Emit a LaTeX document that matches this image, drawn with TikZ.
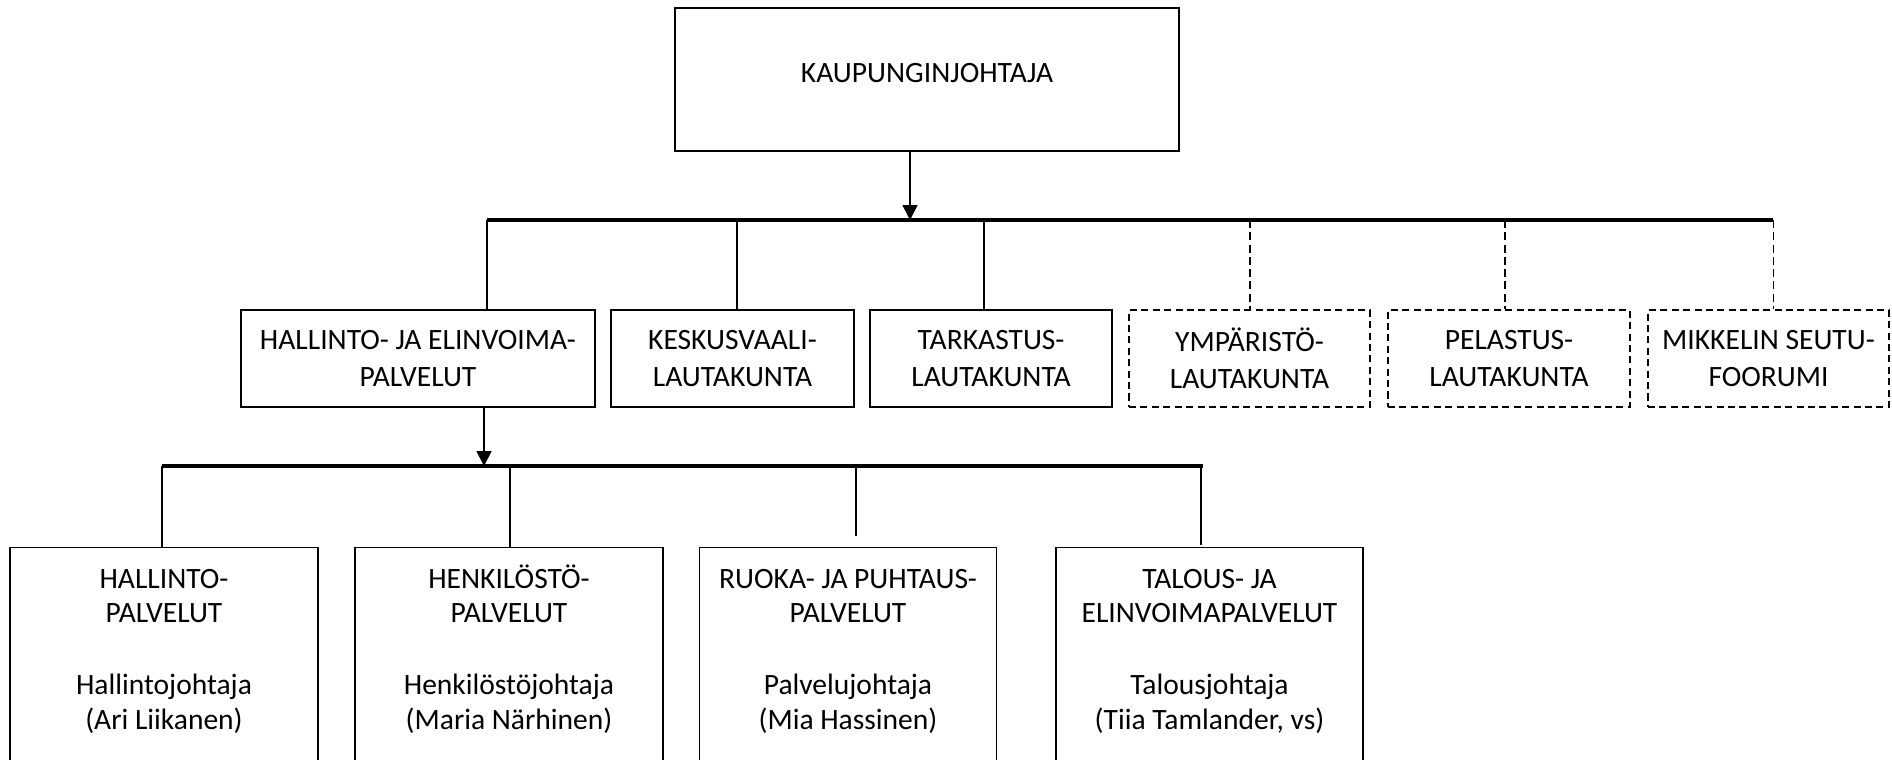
\documentclass[tikz,border=0pt]{standalone}
\usepackage{fontspec}
\setmainfont{Carlito}
\usetikzlibrary{arrows.meta}

\begin{document}
\begin{tikzpicture}[x=0.02cm, y=-0.02cm,
	box/.style={draw, line width=0.8pt, align=center, font=\fontsize{16.8}{21}\selectfont, minimum height=1.94cm, inner sep=0pt},
	dashbox/.style={box, dash pattern=on 4pt off 2.5pt},
	unit/.style={draw, line width=0.8pt, align=center, anchor=north, font=\fontsize{16.8}{19.4}\selectfont, inner xsep=0pt, inner ysep=10pt, text height=93.2pt, text depth=150pt},
	bus/.style={line width=2pt},
	drop/.style={line width=0.6pt},
	dashdrop/.style={drop, dash pattern=on 4.5pt off 2.5pt},
	arr/.style={line width=1.1pt, -{Triangle[length=8.5pt, width=8.5pt]}}]
	\clip (0,0) rectangle (1892,760);

	\node[box, minimum width=10.08cm, minimum height=2.86cm, text height=11pt, text depth=8pt] (kj) at (927,79.5) {KAUPUNGINJOHTAJA};

	\node[box, minimum width=7.08cm] (hj) at (418,358.5) {HALLINTO- JA ELINVOIMA-\\PALVELUT};
	\node[box, minimum width=4.86cm] (kv) at (732.5,358.5) {KESKUSVAALI-\\LAUTAKUNTA};
	\node[box, minimum width=4.84cm] (tk) at (991,358.5) {TARKASTUS-\\LAUTAKUNTA};
	\node[dashbox, minimum width=4.82cm] (ym) at (1249.5,358.5) {YMPÄRISTÖ-\\LAUTAKUNTA};
	\node[dashbox, minimum width=4.84cm] (pe) at (1509,358.5) {PELASTUS-\\LAUTAKUNTA};
	\node[dashbox, minimum width=4.82cm] (ms) at (1768.5,358.5) {MIKKELIN SEUTU-\\FOORUMI};

	\node[unit, minimum width=6.16cm] (hp) at (164,547) {HALLINTO-\\PALVELUT\\[22pt]Hallintojohtaja\\(Ari Liikanen)};
	\node[unit, minimum width=6.16cm] (hep) at (509,547) {HENKILÖSTÖ-\\PALVELUT\\[22pt]Henkilöstöjohtaja\\(Maria Närhinen)};
	\node[unit, minimum width=5.94cm] (rp) at (848,547) {RUOKA- JA PUHTAUS-\\PALVELUT\\[22pt]Palvelujohtaja\\(Mia Hassinen)};
	\node[unit, minimum width=6.14cm] (tp) at (1209.5,547) {TALOUS- JA\\ELINVOIMAPALVELUT\\[22pt]Talousjohtaja\\(Tiia Tamlander, vs)};

	% lautakunnat
	\coordinate (top bus) at (910,220);
	\draw[arr] (kj.south -| top bus) -- (top bus);
	\draw[bus] (487,220) -- (1773,220);
	\foreach \n/\x in {hj/487, kv/737, tk/984}
		\draw[drop] (\x,220) -- (\x,0 |- \n.north);
	\foreach \n/\x in {ym/1250, pe/1505, ms/1773}
		\draw[dashdrop] (\x,220) -- (\x,0 |- \n.north);

	% palvelualueet
	\coordinate (sub bus) at (484,466);
	\draw[arr] (hj.south -| sub bus) -- (sub bus);
	\draw[bus] (162,466) -- (1203,466);
	\foreach \n/\x/\g in {hp/162/0, hep/510/0, rp/856/6, tp/1201/1}
		\draw[drop, shorten >=\g pt] (\x,466) -- (\x,0 |- \n.north);
\end{tikzpicture}
\end{document}
